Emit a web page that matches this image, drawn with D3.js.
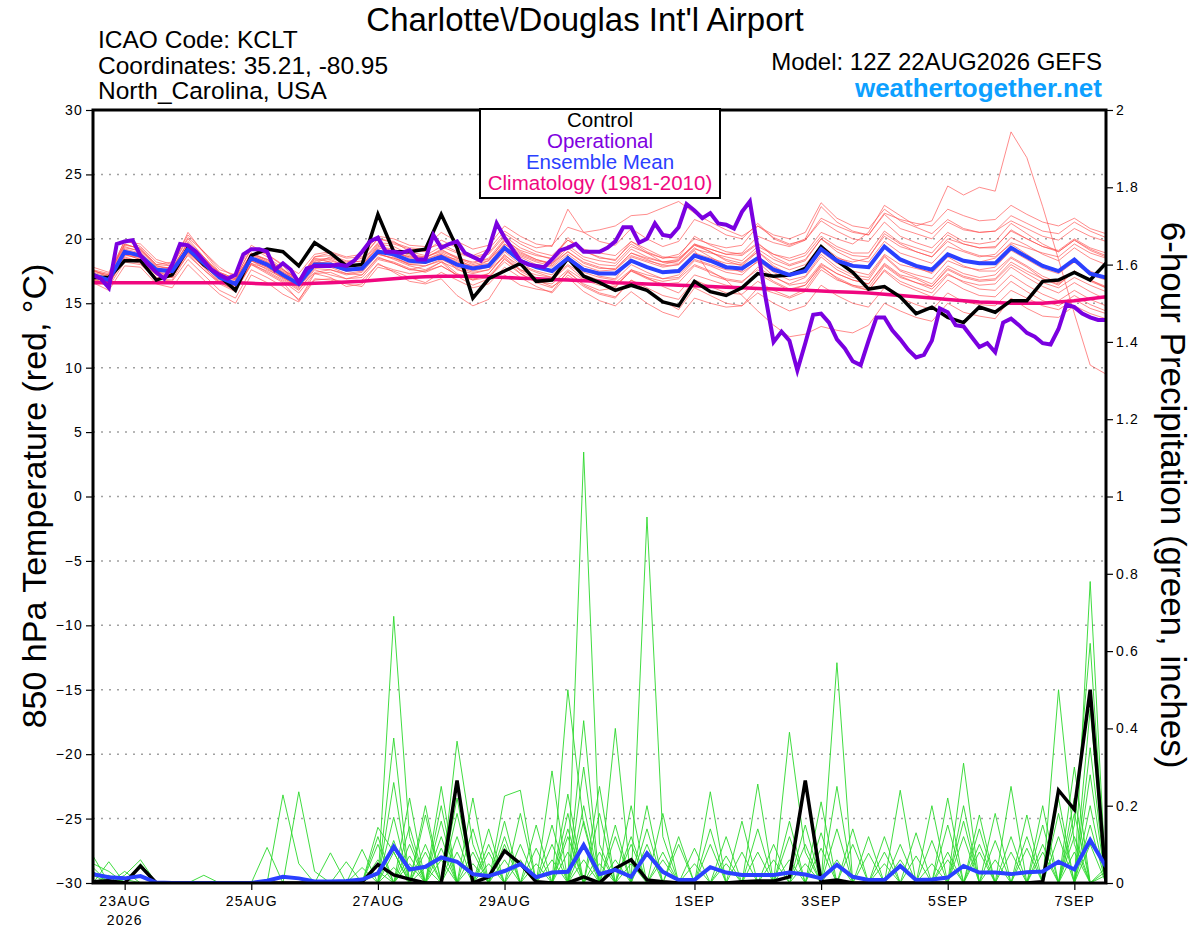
<!DOCTYPE html>
<html>
<head>
<meta charset="utf-8">
<script src="https://cdn.jsdelivr.net/npm/d3@7"></script>
<style>
body { margin: 0; background: #fff; }
svg { display: block; }
text { font-family: "Liberation Sans", Arial, Helvetica, sans-serif; }
</style>
</head>
<body>
<svg id="chart" width="1200" height="927"></svg>
<script>
// run and axis setup
var runStart = new Date(Date.UTC(2026, 7, 22, 12));
var runEnd = new Date(Date.UTC(2026, 8, 7, 12));
var tickDates = ["2026-08-23", "2026-08-25", "2026-08-27", "2026-08-29", "2026-09-01", "2026-09-03", "2026-09-05", "2026-09-07"];
var tickLabels = ["23AUG", "25AUG", "27AUG", "29AUG", "1SEP", "3SEP", "5SEP", "7SEP"];
var tempTicks = [-30, -25, -20, -15, -10, -5, 0, 5, 10, 15, 20, 25, 30];
var precipTicks = [0, 0.2, 0.4, 0.6, 0.8, 1, 1.2, 1.4, 1.6, 1.8, 2];

// 850 hPa temperature (C), 6-hourly from 12Z 22AUG
var controlTemp = [17.0,17.0,18.3,18.3,16.8,17.2,19.3,18.0,17.1,16.0,18.7,19.2,19.0,
  17.9,19.7,18.9,17.9,18.0,21.9,19.0,19.0,19.2,21.9,19.3,15.4,16.9,
  17.5,18.1,16.7,16.8,18.5,17.1,16.6,16.0,16.4,16.0,15.1,14.8,16.7,
  15.9,15.6,16.2,17.3,17.1,17.2,17.7,19.4,18.3,17.4,16.1,16.3,15.5,
  14.2,14.7,13.9,13.5,14.7,14.3,15.2,15.2,16.7,16.8,17.4,16.8,18.1];

var meanTemp = [17.2,16.8,19.0,18.7,17.6,17.5,19.2,18.1,17.0,16.5,18.5,18.0,17.2,
  16.5,18.0,18.0,17.6,17.7,19.0,18.8,18.3,18.2,18.6,18.0,17.7,17.9,
  19.3,18.3,17.8,17.5,18.5,17.6,17.3,17.3,18.3,17.8,17.4,17.5,18.7,
  18.3,17.8,17.7,18.5,17.6,17.2,17.5,19.2,18.3,17.9,17.8,19.4,18.4,
  17.9,17.6,18.8,18.3,18.1,18.1,19.3,18.6,17.9,17.5,18.4,17.3,17.0];

var climoTemp = [16.6,16.6,16.6,16.6,16.6,16.6,16.6,16.6,16.6,16.6,16.55,16.5,16.5,
  16.5,16.55,16.6,16.65,16.7,16.8,16.9,17.0,17.05,17.1,17.1,17.1,17.05,
  17.0,16.95,16.9,16.85,16.8,16.75,16.7,16.6,16.55,16.5,16.45,16.4,16.35,
  16.3,16.25,16.2,16.15,16.1,16.05,16.0,15.95,15.9,15.85,15.8,15.7,15.6,
  15.5,15.4,15.3,15.2,15.1,15.05,15.0,15.0,15.0,15.1,15.2,15.35,15.5];

// operational run is 3-hourly
var operationalTemp = [17.2,16.9,16.2,19.6,19.8,19.9,18.7,18.0,
  17.4,16.9,18.0,19.6,19.5,19.0,18.3,17.6,
  17.2,16.9,17.2,18.8,19.2,19.2,19.0,17.6,
  18.1,17.6,16.6,17.7,17.9,17.9,17.9,18.0,
  17.9,18.3,19.0,19.8,20.1,19.0,19.0,18.9,
  19.1,18.4,18.4,20.3,19.3,19.6,19.8,18.9,
  18.6,18.3,19.2,21.2,20.1,19.2,18.3,18.0,
  17.9,17.8,18.4,19.1,19.3,19.6,19.0,19.0,
  19.0,19.3,19.8,20.9,20.9,19.7,20.0,21.2,
  20.3,20.2,20.9,22.7,22.2,21.6,22.0,21.2,
  21.1,20.8,22.1,22.9,19.2,15.4,12.0,12.8,
  12.1,9.8,11.9,14.1,14.2,13.5,12.2,11.5,
  10.5,10.2,12.1,13.9,13.9,12.9,12.2,11.4,
  10.8,11.0,12.1,14.6,14.3,13.3,13.2,12.4,
  11.6,11.9,11.2,13.5,13.8,13.3,12.7,12.4,
  11.9,11.8,13.0,14.9,14.7,14.2,13.9,13.7,
  13.7];

var memberTemp = [
  [17.5,17.2,19.5,19.3,18.0,18.2,20.3,19.0,17.8,17.0,19.2,18.8,18.0, 17.3,18.8,19.0,18.6,18.8,20.2,20.0,19.5,19.4,20.5,19.8,19.2,19.5, 21.0,20.2,19.6,19.4,22.3,20.5,19.8,19.5,20.8,20.0,19.4,19.8,21.5, 21.0,20.3,20.0,21.2,20.0,19.5,20.0,22.5,21.3,20.6,20.3,21.9,20.8, 20.4,20.0,21.3,20.7,20.5,20.6,21.4,20.8,20.2,19.9,20.8,20.2,19.8],
  [17.0,16.6,18.8,18.4,17.3,17.2,19.0,18.0,16.8,16.2,18.3,17.6,17.0, 16.4,17.9,17.8,17.3,17.5,19.2,18.6,18.0,18.1,18.8,17.6,17.3,17.6, 19.0,18.0,17.5,17.2,18.6,17.7,17.1,16.9,18.6,18.2,17.8,18.0,19.2, 18.9,18.6,18.3,19.4,18.8,18.5,18.9,20.5,20.0,19.6,20.5,22.6,21.8, 21.0,21.4,24.1,23.4,24.0,23.7,28.3,26.3,22.5,18.4,14.2,10.2,9.5],
  [16.8,16.3,18.2,18.0,16.9,16.7,18.4,17.2,16.0,15.4,17.6,17.0,16.3, 15.3,16.9,16.8,16.5,16.3,17.8,17.5,17.0,16.6,17.4,16.8,16.2,16.5, 17.8,17.0,16.3,15.8,17.2,16.3,15.7,15.4,16.8,16.0,15.2,14.5,16.2, 15.6,15.0,14.8,15.8,15.0,14.4,14.8,16.4,15.6,15.0,14.7,16.2,15.4, 14.9,14.5,15.8,15.1,14.9,14.8,16.0,15.4,14.8,14.5,15.3,14.6,14.2],
  [17.3,16.9,19.2,18.9,17.8,17.4,19.5,18.3,17.1,16.6,18.7,18.2,17.4, 16.8,18.3,18.4,17.9,18.0,19.5,19.0,18.5,18.4,18.9,18.3,17.9,18.1, 19.6,18.7,18.2,17.9,19.0,18.2,17.8,17.6,18.9,18.4,17.9,18.0,19.1, 17.2,16.8,15.6,14.4,13.3,12.4,12.6,13.2,12.9,12.7,13.3,15.0,14.4, 13.9,13.6,15.0,14.3,14.0,13.8,15.4,14.6,14.0,13.9,14.8,14.2,13.8],
  [17.6,17.0,19.9,19.4,18.2,17.9,20.5,18.9,17.4,16.9,19.3,18.6,17.7, 16.3,18.1,18.6,18.2,18.5,20.0,19.8,19.0,18.7,19.4,18.9,18.5,18.8, 20.2,19.3,18.8,18.4,20.1,19.0,18.6,18.3,19.8,19.0,18.5,18.6,20.2, 19.5,19.0,18.8,19.7,18.6,18.0,18.4,20.0,19.0,18.4,18.2,19.8,18.9, 18.5,18.1,19.4,19.0,18.6,18.8,20.1,19.5,18.8,18.3,19.3,18.5,18.0],
  [16.9,16.5,18.6,18.2,17.0,17.1,18.7,17.6,16.5,15.9,18.0,17.5,16.8, 16.0,17.6,17.2,16.9,17.2,18.6,18.1,17.6,17.9,18.3,17.3,16.8,17.3, 18.8,17.6,17.0,16.8,17.9,16.9,16.6,16.6,17.6,17.0,16.7,16.9,18.0, 17.5,16.8,16.6,17.8,17.0,16.5,17.0,18.6,17.6,17.0,16.8,18.6,17.5, 17.0,16.5,17.9,17.3,17.0,17.2,18.5,17.8,16.9,16.4,17.5,16.8,16.3],
  [17.4,17.1,19.4,19.0,17.7,17.8,19.6,18.4,17.3,16.8,18.9,18.3,17.5, 16.9,18.4,18.5,18.1,18.3,19.7,19.6,19.2,19.0,19.9,19.3,18.7,19.2, 20.6,19.8,19.3,19.5,20.9,20.5,20.7,21.0,21.8,21.9,22.4,22.9,22.0, 21.3,20.7,20.2,21.0,20.1,19.6,19.9,21.4,20.6,20.0,19.8,21.3,20.2, 19.7,19.3,20.5,19.8,19.6,19.8,21.2,20.4,19.6,19.0,19.9,19.1,18.6],
  [16.6,16.0,17.9,17.8,16.5,16.2,18.0,16.8,15.7,15.0,17.2,16.6,15.7, 15.1,16.8,16.9,16.6,16.8,18.0,17.6,17.3,17.5,18.2,17.7,17.0,17.3, 18.7,17.9,17.4,17.0,18.0,17.2,16.8,16.4,17.5,17.0,16.3,15.8,17.2, 16.8,16.4,16.2,17.3,16.6,16.0,16.4,18.0,17.3,16.8,16.5,18.1,17.2, 16.9,16.3,17.6,17.0,16.7,16.8,18.0,17.3,16.6,16.2,17.0,16.4,15.9],
  [17.1,16.8,19.1,18.8,17.6,17.3,19.4,18.2,17.0,16.4,18.6,18.0,17.3, 16.6,18.2,18.1,17.7,17.8,19.1,18.9,18.6,18.4,18.8,18.2,17.8,18.0, 19.4,18.6,18.0,17.8,18.8,17.9,17.5,17.6,18.7,18.3,18.0,18.3,19.5, 19.2,18.8,18.9,20.2,19.7,19.4,19.9,21.6,21.0,20.5,20.3,22.0,21.5, 21.2,21.0,22.3,21.8,21.4,21.5,22.6,21.9,21.3,21.0,21.6,20.8,20.4],
  [17.8,17.4,19.8,19.6,18.4,18.0,20.1,19.0,17.6,17.2,19.5,18.8,17.9, 16.6,18.5,18.2,17.5,17.6,18.9,18.4,17.9,17.6,18.2,17.1,16.4,16.9, 18.5,17.3,16.6,16.2,17.4,16.5,16.0,16.2,17.6,17.2,16.9,17.2,18.4, 18.0,17.6,17.5,18.6,17.8,17.2,17.6,19.2,18.5,18.2,18.5,20.4,19.6, 19.0,18.6,19.8,19.1,18.7,18.6,19.6,18.8,18.0,17.5,18.2,17.2,16.8],
  [17.2,16.7,18.9,18.5,17.4,17.3,18.9,17.8,16.7,16.0,18.0,17.3,16.6, 15.2,17.3,17.0,16.3,16.5,18.1,17.4,16.7,16.5,16.9,15.6,14.8,15.3, 17.2,16.4,16.1,15.9,17.5,16.4,15.8,15.5,16.8,16.2,15.6,15.3,16.8, 16.3,15.8,15.7,16.7,16.0,15.5,16.1,17.8,17.0,16.4,16.0,17.6,16.7, 16.2,15.8,17.2,16.7,16.4,16.5,17.8,17.0,16.3,15.8,16.6,15.9,15.3],
  [17.0,16.9,19.3,19.1,17.9,17.6,19.8,18.6,17.2,16.7,18.8,18.4,17.6, 16.8,18.6,18.7,18.3,18.2,19.6,19.4,18.8,18.6,19.1,18.6,18.1,18.5, 20.0,19.0,18.4,18.0,19.3,18.4,18.0,17.9,19.2,18.6,18.2,18.4,19.6, 19.0,18.3,17.9,19.0,17.9,17.2,17.4,19.0,18.1,17.5,17.2,18.8,18.0, 17.7,17.4,18.8,18.3,18.2,18.5,19.7,19.3,18.9,18.6,19.6,18.9,18.5],
  [17.4,16.6,18.5,18.3,17.2,17.0,19.1,17.9,16.9,16.3,18.3,17.8,17.0, 16.2,17.7,17.6,17.2,17.4,18.8,18.5,18.1,18.2,18.7,18.4,17.8,18.3, 19.9,19.1,18.7,18.5,19.9,19.2,18.9,18.7,19.8,19.2,18.6,18.5,19.5, 19.0,18.4,18.1,19.0,18.1,17.6,18.0,19.5,18.6,18.0,17.7,19.3,18.3, 17.8,17.3,18.6,17.9,17.5,17.5,18.6,17.9,17.1,16.6,17.5,16.8,16.2],
  [17.3,17.0,19.0,18.7,17.5,17.6,19.3,18.1,17.1,16.6,18.5,18.1,17.3, 16.5,18.0,18.3,17.9,17.9,19.4,19.2,18.7,18.5,19.2,18.5,18.2,18.4, 19.8,18.9,18.4,18.1,19.5,18.6,18.3,18.1,19.4,18.9,18.5,18.8,20.0, 19.6,19.3,19.5,21.0,20.3,20.0,20.5,22.8,21.6,21.0,20.8,22.3,21.4, 20.9,20.4,21.5,20.8,20.5,20.6,21.8,21.2,20.6,20.4,21.3,20.6,20.1],
  [16.9,16.4,18.7,18.6,17.5,17.0,19.0,17.8,16.6,16.0,18.1,17.7,16.9, 16.1,17.4,17.6,17.3,17.2,18.5,18.2,17.7,17.4,17.9,17.2,16.9,17.1, 18.4,17.6,17.2,17.0,18.3,17.4,17.0,16.8,18.0,17.4,16.9,17.0,18.3, 17.9,17.4,17.2,18.3,17.4,16.8,17.1,18.8,17.8,17.2,17.0,18.7,17.6, 17.2,16.9,18.3,17.8,17.6,17.8,19.1,18.4,17.7,17.3,18.2,17.5,17.0],
  [17.5,17.2,19.6,19.2,17.9,17.7,19.7,18.5,17.4,16.9,18.8,18.2,17.4, 16.7,18.2,18.0,17.5,17.6,18.8,18.5,18.0,17.9,18.4,17.8,17.4,17.6, 18.6,17.5,16.8,16.3,17.0,15.9,15.2,14.8,15.9,15.0,14.3,13.9,15.4, 15.0,14.7,14.8,16.2,15.8,15.4,15.9,17.6,16.8,16.4,16.2,17.9,17.0, 16.6,16.3,17.7,17.1,16.8,16.9,18.2,17.5,16.9,16.5,17.4,16.7,16.2],
  [17.0,16.7,18.9,18.6,17.6,17.4,19.2,18.0,16.9,16.5,18.4,17.9,17.1, 16.4,17.9,17.9,17.5,17.6,19.0,18.8,18.3,18.1,18.5,17.9,17.5,17.8, 19.1,18.3,17.8,17.5,18.6,17.7,17.4,17.2,18.4,17.8,17.5,17.6,18.9, 18.5,18.1,18.0,19.2,18.4,17.9,18.3,20.0,19.2,18.7,18.6,20.2,19.4, 19.0,18.6,20.0,19.6,19.3,19.4,20.6,20.0,19.4,19.1,20.0,19.3,18.9],
  [17.6,17.3,19.6,19.2,18.0,17.9,20.0,18.6,17.3,16.8,18.9,18.4,17.6, 16.9,18.6,18.9,18.5,18.6,20.0,19.7,19.3,19.2,19.6,19.0,18.6,18.9, 20.4,19.6,19.0,18.7,19.9,19.1,18.5,18.4,19.6,18.9,18.2,18.1,19.3, 18.6,17.9,17.4,18.2,17.1,16.4,16.6,18.1,17.3,16.8,16.5,18.0,17.1, 16.6,16.1,17.3,16.6,16.1,16.0,17.2,16.4,15.7,15.2,16.0,15.3,14.8],
  [17.2,16.9,18.8,18.4,17.2,17.0,19.0,17.9,16.9,16.4,18.3,17.8,17.0, 16.3,17.8,18.1,17.8,18.0,19.3,19.0,18.6,18.6,19.0,18.5,18.0,18.3, 19.6,18.8,18.3,18.1,19.0,18.1,17.7,17.7,18.9,18.5,18.2,18.3,19.6, 19.2,18.8,18.7,19.6,18.8,18.3,18.7,20.2,19.4,18.9,18.9,20.6,19.7, 19.3,18.9,20.3,19.6,19.3,19.3,20.7,20.0,19.4,19.0,19.9,19.2,18.7],
  [16.8,16.5,18.4,18.1,16.9,16.8,18.8,17.6,16.6,16.1,18.1,17.4,16.7, 15.8,17.3,17.4,16.9,17.0,18.4,18.1,17.6,17.5,17.9,17.2,16.8,17.0, 18.2,17.3,16.7,16.5,17.6,16.8,16.4,16.3,17.5,16.9,16.5,16.6,17.9, 17.4,16.9,16.7,17.6,16.7,16.1,16.4,17.9,16.9,16.3,16.0,17.5,16.5, 16.0,15.5,16.8,16.1,15.6,15.5,16.7,15.9,15.2,14.8,15.6,14.9,14.4]
];

// 6-hour precipitation (inches)
var controlPrecip = [0.003,0.006,0,0.044,0,0,0,0,0,0,0,0,0,
  0,0,0,0,0.003,0.048,0.021,0.01,0,0,0.265,0,0.016,
  0.083,0.05,0.003,0,0,0.016,0,0.038,0.06,0.008,0.003,0,0,
  0,0,0.003,0.005,0.005,0.016,0.265,0.003,0.008,0,0,0,0,
  0,0,0,0,0,0,0,0,0.003,0.24,0.19,0.50,0.003];

var meanPrecip = [0.023,0.015,0.012,0.018,0.001,0,0,0,0,0,0,0.006,0.016,
  0.012,0.004,0.004,0.005,0.009,0.025,0.094,0.035,0.042,0.066,0.055,0.023,0.018,
  0.031,0.049,0.015,0.027,0.029,0.098,0.023,0.034,0.016,0.077,0.029,0.008,0.008,
  0.041,0.027,0.021,0.021,0.021,0.027,0.022,0.012,0.047,0.016,0.008,0.008,0.044,
  0.008,0.009,0.014,0.044,0.027,0.027,0.023,0.028,0.03,0.055,0.035,0.111,0.042];

var memberPrecip = [
  [.05,.03,0,0,0,0,0,0,0,0,0,0,0, 0,0,0,0,0,0,.69,.12,0,0,0,0,0, 0,0,0,0,0,1.115,.10,0,0,0,0,0,0, 0,0,0,0,0,0,0,0,.57,0,0,0,0, 0,0,0,0,0,0,0,0,0,0,0,.78,0],
  [.07,0,.02,.06,0,0,0,0,0,0,0,0,.228, .05,0,0,0,0,0,0,0,0,0,.367,.10,0, 0,0,0,0,0,0,0,0,0,.947,.12,0,0, 0,0,0,0,0,0,0,0,0,0,0,0,0, 0,0,0,.31,0,0,0,0,0,0,.15,.62,0],
  [0,.055,0,.04,0,0,0,0,0,0,0,0,0, .236,.03,0,0,0,0,.375,0,0,.25,0,0,0, 0,0,0,0,.50,.15,0,0,0,0,0,0,0, 0,0,0,0,0,.39,.08,0,0,0,0,0,0, 0,0,0,0,0,0,0,0,0,.50,.10,0,0],
  [.04,0,0,0,0,0,0,0,0,0,0,.092,0, 0,0,0,0,0,.144,.08,0,0,0,0,0,0, .225,.24,0,0,0,0,0,.40,0,0,0,0,0, 0,0,0,.256,0,0,0,0,0,0,0,0,.24, 0,0,0,0,0,0,.25,0,0,0,0,.28,0],
  [0,0,.03,0,0,0,0,.02,0,0,0,0,0, 0,0,0,0,.087,0,0,0,.176,0,0,0,0, 0,0,0,.29,0,.42,0,0,0,0,0,0,0, .236,0,0,0,0,0,0,.21,0,0,0,0,0, 0,0,.15,0,0,0,0,0,.20,0,0,0,0],
  [0,0,0,.05,0,0,0,0,0,0,0,0,0, 0,0,.078,0,0,0,0,.146,0,0,0,.22,0, 0,0,0,0,.23,0,0,0,.12,0,0,0,0, 0,0,0,0,0,0,0,0,.14,0,0,0,0, 0,.11,0,0,.176,0,0,.176,0,0,0,0,.04],
  [0,0,0,0,0,0,0,0,0,0,0,0,0, 0,0,0,.055,0,0,.17,0,0,.12,0,0,0, .12,0,.09,0,0,0,.25,0,0,0,0,.10,0, 0,0,.08,0,0,0,0,0,0,0,.077,0,0, 0,0,0,0,0,.11,0,0,0,0,.30,0,0],
  [.02,0,0,0,0,0,0,0,0,0,0,0,0, 0,0,0,0,0,.10,0,0,.08,0,.18,0,.14, 0,0,0,0,0,.30,0,.15,0,.20,0,0,0, 0,.12,0,0,0,0,.15,0,0,0,0,0,0, 0,0,0,.20,0,0,0,0,0,.18,0,.45,0],
  [0,.02,0,0,0,0,0,0,0,0,0,0,0, 0,0,0,0,0,0,0,.22,0,.16,0,0,0, 0,.10,0,0,.12,0,0,0,0,0,.18,0,0, 0,0,0,0,.06,0,0,0,0,.10,0,0,0, .13,0,0,0,0,0,.12,0,0,0,.08,0,0],
  [0,0,.01,0,0,0,0,0,0,0,0,0,0, 0,0,0,0,0,0,.11,0,0,0,0,.08,0, 0,0,0,.15,0,.20,0,0,0,0,0,0,.09, 0,0,0,0,0,.12,0,0,0,0,0,.12,0, 0,0,.08,0,0,0,0,0,.10,0,0,0,.02],
  [0,0,0,0,0,0,0,0,0,0,0,0,0, 0,0,0,0,0,.06,0,0,.20,0,.22,0,0, .06,0,0,0,0,0,.18,0,.20,0,0,0,0, .10,0,0,0,0,0,0,.09,0,0,0,0,.06, 0,0,0,0,.08,0,0,0,0,0,0,.20,0],
  [0,0,0,0,0,0,0,0,0,0,0,0,0, 0,0,0,0,.04,0,0,.10,0,0,0,0,.08, 0,.18,0,0,.08,0,0,.06,0,0,0,0,0, 0,0,0,.14,0,0,0,0,.25,0,0,0,0, 0,.20,0,0,0,0,0,.09,0,0,.22,0,0],
  [0,0,0,0,0,0,0,0,0,0,0,0,0, 0,0,0,0,0,0,.26,0,0,.09,0,.05,0, 0,0,.15,0,0,.10,0,0,0,0,.08,0,0, 0,0,.16,0,0,0,.10,0,0,0,0,0,0, 0,0,0,.16,0,.18,0,0,0,.12,0,0,0],
  [.03,0,0,0,0,0,0,0,0,0,0,0,0, 0,0,0,0,0,0,0,.07,0,0,.12,0,0, .16,0,0,.06,0,0,0,0,0,.14,0,0,0, 0,.05,0,0,0,0,0,0,0,.14,0,0,0, 0,0,.22,0,0,0,0,0,.15,0,0,.10,0],
  [0,0,0,0,0,0,0,0,0,0,0,0,0, 0,0,0,0,0,.12,0,0,.10,0,0,0,.10, 0,0,0,0,.14,0,.08,0,0,0,0,.12,0, 0,0,0,0,0,.16,0,0,0,0,0,.05,0, 0,0,0,0,.10,0,0,0,0,0,.18,0,0],
  [0,0,0,0,0,0,0,0,0,0,0,0,0, 0,0,0,0,0,0,.04,0,0,.20,0,0,0, 0,.06,0,0,0,.16,0,0,.10,0,0,0,.05, 0,0,0,0,.10,0,0,0,0,0,.12,0,0, 0,0,0,.12,0,0,.08,0,0,0,0,.35,0],
  [0,0,0,0,0,0,0,0,0,0,0,0,0, 0,0,0,0,0,0,0,.05,0,0,0,.14,0, 0,0,.05,0,0,0,0,.12,0,0,.06,0,0, 0,0,0,.08,0,0,0,0,.06,0,0,0,0, .07,0,0,0,0,.06,0,0,0,.22,0,0,0],
  [0,0,0,0,0,0,0,0,0,0,0,0,0, 0,0,0,0,0,0,0,0,.04,0,.08,0,0, .10,0,0,0,.18,0,0,0,0,.10,0,0,0, .14,0,0,0,0,0,0,.13,0,0,0,0,.10, 0,0,0,0,0,0,0,.12,0,0,0,0,.03],
  [0,0,0,0,0,0,0,0,0,0,0,0,0, 0,0,0,0,0,.03,0,0,0,.06,0,0,0, 0,0,0,.10,0,0,.05,0,0,0,0,0,0, 0,.07,0,0,0,0,.05,0,0,0,0,0,0, 0,.05,0,0,.14,0,0,0,0,0,.12,0,0],
  [0,0,0,0,0,0,0,0,0,0,0,0,0, 0,0,0,0,0,0,.08,0,0,0,0,0,.05, 0,0,0,0,0,.06,0,0,.05,0,0,0,0, 0,0,0,0,0,.06,0,0,0,0,0,.08,0, 0,0,.06,0,0,0,0,0,.08,0,0,.15,0]
];

var svg = d3.select("#chart");
var plotLeft = 93, plotRight = 1106, plotTop = 110, plotBottom = 883;

var x = d3.scaleUtc().domain([runStart, runEnd]).range([plotLeft, plotRight]);
var yT = d3.scaleLinear().domain([-30, 30]).range([plotBottom, plotTop]);
var yP = d3.scaleLinear().domain([0, 2]).range([plotBottom, plotTop]);

function lineFor(yScale, hours) {
  return d3.line()
    .x(function(d, i) { return x(d3.utcHour.offset(runStart, i * hours)); })
    .y(function(d) { return yScale(d); });
}

svg.append("rect").attr("width", 1200).attr("height", 927).attr("fill", "#fff");

// dotted grid on the temperature ticks
svg.append("g").selectAll("line")
  .data(tempTicks.filter(function(t) { return t > -30 && t < 30; }))
  .enter().append("line")
  .attr("x1", plotLeft).attr("x2", plotRight)
  .attr("y1", function(d) { return yT(d); })
  .attr("y2", function(d) { return yT(d); })
  .attr("stroke", "#a0a0a0").attr("stroke-width", 1.5)
  .attr("stroke-dasharray", "2,6");

svg.append("defs").append("clipPath").attr("id", "plot-clip")
  .append("rect").attr("x", plotLeft).attr("y", plotTop)
  .attr("width", plotRight - plotLeft).attr("height", plotBottom - plotTop);

var plot = svg.append("g").attr("clip-path", "url(#plot-clip)");

var tLine = lineFor(yT, 6);
var pLine = lineFor(yP, 6);

plot.append("g").selectAll("path").data(memberTemp).enter().append("path")
  .attr("d", tLine).attr("fill", "none")
  .attr("stroke", "#ff4a4a").attr("stroke-opacity", 0.8).attr("stroke-width", 0.8);

plot.append("g").selectAll("path").data(memberPrecip).enter().append("path")
  .attr("d", pLine).attr("fill", "none")
  .attr("stroke", "#2bd82b").attr("stroke-width", 0.9);

plot.append("path").datum(climoTemp).attr("d", tLine)
  .attr("fill", "none").attr("stroke", "#f0077f").attr("stroke-width", 3.5);

plot.append("path").datum(controlPrecip).attr("d", pLine)
  .attr("fill", "none").attr("stroke", "#000").attr("stroke-width", 3.5);
plot.append("path").datum(meanPrecip).attr("d", pLine)
  .attr("fill", "none").attr("stroke", "#2a40ff").attr("stroke-width", 4);

plot.append("path").datum(controlTemp).attr("d", tLine)
  .attr("fill", "none").attr("stroke", "#000").attr("stroke-width", 3.5);
plot.append("path").datum(meanTemp).attr("d", tLine)
  .attr("fill", "none").attr("stroke", "#2a40ff").attr("stroke-width", 4);
plot.append("path").datum(operationalTemp).attr("d", lineFor(yT, 3))
  .attr("fill", "none").attr("stroke", "#7a00e0").attr("stroke-width", 4);

// axes
function styleAxis(g) {
  g.select(".domain").remove();
  g.selectAll(".tick line").attr("stroke", "#000").attr("stroke-width", 1.2);
  g.selectAll(".tick text").attr("font-size", 14).attr("letter-spacing", 1.2)
    .attr("fill", "#000").attr("font-family", "Liberation Sans, Arial, sans-serif");
}

svg.append("g").attr("transform", "translate(" + plotLeft + ",0)")
  .call(d3.axisLeft(yT).tickValues(tempTicks).tickSize(7).tickPadding(3))
  .call(styleAxis);

svg.append("g").attr("transform", "translate(" + plotRight + ",0)")
  .call(d3.axisRight(yP).tickValues(precipTicks).tickSize(7).tickPadding(3)
    .tickFormat(function(d) { return String(+d.toFixed(1)); }))
  .call(styleAxis);

var dates = tickDates.map(function(s) { return new Date(s + "T00:00:00Z"); });
svg.append("g").attr("transform", "translate(0," + plotBottom + ")")
  .call(d3.axisBottom(x).tickValues(dates).tickSize(7).tickPadding(6)
    .tickFormat(function(d, i) { return tickLabels[i]; }))
  .call(styleAxis);

svg.append("text").attr("x", x(dates[0])).attr("y", 925)
  .attr("text-anchor", "middle").attr("font-size", 14).attr("letter-spacing", 1.2)
  .text("2026");

// frame
svg.append("rect").attr("x", plotLeft).attr("y", plotTop)
  .attr("width", plotRight - plotLeft).attr("height", plotBottom - plotTop)
  .attr("fill", "none").attr("stroke", "#000").attr("stroke-width", 3);

// legend
var legend = svg.append("g");
legend.append("rect").attr("x", 480).attr("y", 109).attr("width", 240).attr("height", 89)
  .attr("fill", "#fff").attr("stroke", "#000").attr("stroke-width", 2);
var legendItems = [["Control", "#000"], ["Operational", "#8000e0"], ["Ensemble Mean", "#2a40ff"], ["Climatology (1981-2010)", "#f0077f"]];
legend.selectAll("text").data(legendItems).enter().append("text")
  .attr("x", 600).attr("y", function(d, i) { return 127 + i * 21; })
  .attr("text-anchor", "middle").attr("font-size", 20.5)
  .attr("fill", function(d) { return d[1]; })
  .text(function(d) { return d[0]; });

// titles
svg.append("text").attr("x", 585).attr("y", 31).attr("text-anchor", "middle")
  .attr("font-size", 33).text("Charlotte\\/Douglas Int'l Airport");

var info = ["ICAO Code: KCLT", "Coordinates: 35.21, -80.95", "North_Carolina, USA"];
svg.append("g").selectAll("text").data(info).enter().append("text")
  .attr("x", 98).attr("y", function(d, i) { return 48 + i * 25.5; })
  .attr("font-size", 24.5).text(function(d) { return d; });

svg.append("text").attr("x", 1102).attr("y", 70).attr("text-anchor", "end")
  .attr("font-size", 24).text("Model: 12Z 22AUG2026 GEFS");
svg.append("text").attr("x", 1102).attr("y", 97).attr("text-anchor", "end")
  .attr("font-size", 26).attr("font-weight", "bold").attr("fill", "#0da0ff")
  .text("weathertogether.net");

svg.append("text").attr("transform", "translate(46,496) rotate(-90)")
  .attr("text-anchor", "middle").attr("font-size", 34)
  .text("850 hPa Temperature (red, \u00B0C)");

svg.append("text").attr("transform", "translate(1161,495) rotate(90)")
  .attr("text-anchor", "middle").attr("font-size", 35)
  .text("6-hour Precipitation (green, inches)");
</script>
</body>
</html>
